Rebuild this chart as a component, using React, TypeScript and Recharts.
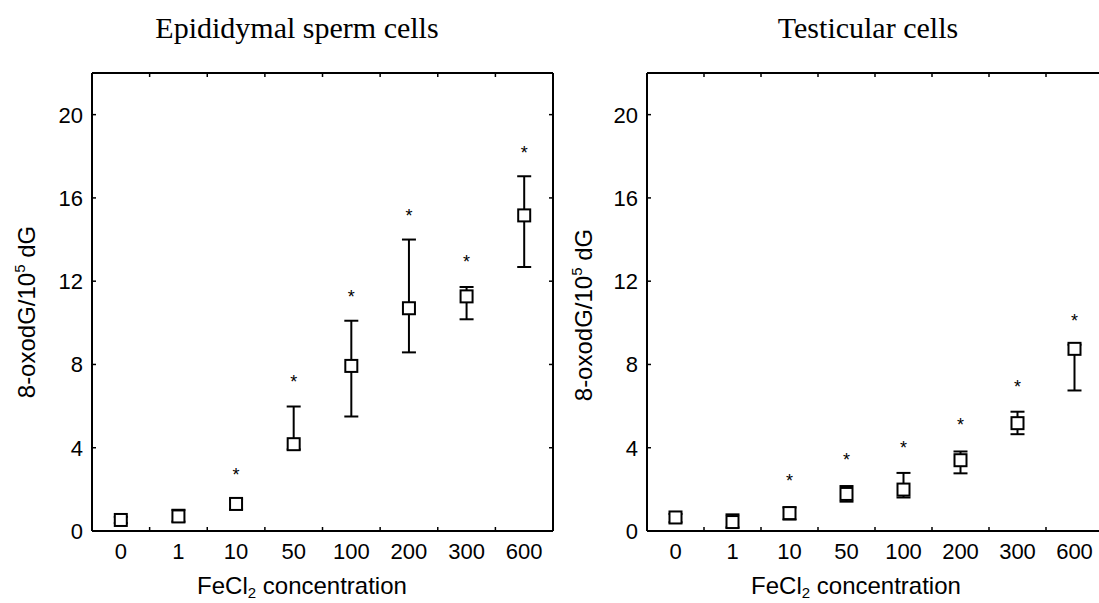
import React from 'react';
import { ComposedChart, Scatter, ErrorBar, XAxis, YAxis } from 'recharts';

const concentrations = ['0', '1', '10', '50', '100', '200', '300', '600'];

// Epididymal sperm cells
const spermMean = [0.53, 0.7, 1.3, 4.17, 7.93, 10.7, 11.27, 15.16];
const spermLow = [0.38, 0.45, 1.04, 3.92, 5.5, 8.58, 10.17, 12.68];
const spermHigh = [0.68, 1.02, 1.52, 5.98, 10.1, 14.0, 11.72, 17.04];
const spermStar = [null, null, 2.86, 7.36, 11.45, 15.3, 13.1, 18.35];

// Testicular cells
const testisMean = [0.65, 0.43, 0.86, 1.78, 1.99, 3.4, 5.18, 8.75];
const testisLow = [0.42, 0.17, 0.55, 1.41, 1.61, 2.77, 4.65, 6.75];
const testisHigh = [0.82, 0.8, 1.13, 2.16, 2.79, 3.82, 5.73, 8.95];
const testisStar = [null, null, 2.6, 3.6, 4.2, 5.28, 7.09, 10.29];

const yTicks = [0, 4, 8, 12, 16, 20];

const SANS = '"Liberation Sans", Arial, sans-serif';
const SERIF = '"Liberation Serif", "Times New Roman", serif';

function buildRows(mean: number[], low: number[], high: number[], star: (number | null)[]) {
  return concentrations.map((c, i) => ({
    conc: c,
    mean: mean[i],
    err: [mean[i] - low[i], high[i] - mean[i]],
    star: star[i],
  }));
}

const Box = (props: any) => {
  const { cx, cy } = props;
  if (!Number.isFinite(cx) || !Number.isFinite(cy)) return <g />;
  return <rect x={cx - 6} y={cy - 6} width={12} height={12} fill="#fff" stroke="#000" strokeWidth={2} />;
};

const Star = (props: any) => {
  const { cx, cy, payload } = props;
  if (payload == null || payload.star == null || !Number.isFinite(cy)) return <g />;
  return (
    <text x={cx} y={cy + 10} textAnchor="middle" fontSize={18} fontFamily={SANS} fill="#000">
      *
    </text>
  );
};

const frame = { stroke: '#000', strokeWidth: 2 };
const TICK_LEN = 4;

// left axis: number label plus a short inward tick
const LeftTick = (props: any) => {
  const { x, y, payload } = props;
  const ax = x + 9;
  return (
    <g>
      <line x1={ax} x2={ax + TICK_LEN} y1={y} y2={y} stroke="#000" strokeWidth={1.5} />
      <text x={x} y={y} dy="0.36em" textAnchor="end" fontSize={22} fontFamily={SANS} fill="#000">
        {payload.value}
      </text>
    </g>
  );
};

const RightTick = (props: any) => {
  const { x, y } = props;
  return <line x1={x - TICK_LEN} x2={x} y1={y} y2={y} stroke="#000" strokeWidth={1.5} />;
};

// bottom axis: category label, inward tick on the boundary left of each band
const makeBottomTick = (half: number) => (props: any) => {
  const { x, y, payload, index } = props;
  const ay = y - 12;
  return (
    <g>
      {index > 0 && <line x1={x - half} x2={x - half} y1={ay} y2={ay - TICK_LEN} stroke="#000" strokeWidth={1.5} />}
      <text x={x} y={y} dy="0.72em" textAnchor="middle" fontSize={22} fontFamily={SANS} fill="#000">
        {payload.value}
      </text>
    </g>
  );
};

const makeTopTick = (half: number) => (props: any) => {
  const { x, y, index } = props;
  if (index === 0) return <g />;
  return <line x1={x - half} x2={x - half} y1={y} y2={y + TICK_LEN} stroke="#000" strokeWidth={1.5} />;
};

function Panel({ rows, left, yWidth, rightMargin, half }: any) {
  const pad = { left: half, right: half };
  return (
    <div style={{ position: 'absolute', left, top: 0 }}>
      <ComposedChart width={560} height={603} data={rows} margin={{ top: 72, right: rightMargin, left: 0, bottom: 0 }}>
        <XAxis dataKey="conc" type="category" height={72} padding={pad} tick={makeBottomTick(half)} tickLine={false}
          tickSize={0} tickMargin={12} axisLine={frame} interval={0} />
        <XAxis xAxisId="tp" dataKey="conc" type="category" orientation="top" height={1} padding={pad}
          tick={makeTopTick(half)} tickLine={false} tickSize={0} tickMargin={0} axisLine={frame} interval={0} />
        <YAxis type="number" domain={[0, 22]} ticks={yTicks} allowDataOverflow width={yWidth} tick={LeftTick}
          tickLine={false} tickSize={0} tickMargin={9} axisLine={frame} interval={0} />
        <YAxis yAxisId="rt" type="number" domain={[0, 22]} ticks={yTicks} allowDataOverflow orientation="right"
          width={1} tick={RightTick} tickLine={false} tickSize={0} tickMargin={0} axisLine={frame} interval={0} />
        <Scatter dataKey="mean" shape={Box} isAnimationActive={false}>
          <ErrorBar dataKey="err" direction="y" width={7} stroke="#000" strokeWidth={2} isAnimationActive={false} />
        </Scatter>
        <Scatter dataKey="star" xAxisId="tp" yAxisId="rt" shape={Star} isAnimationActive={false} />
      </ComposedChart>
    </div>
  );
}

export default function App() {
  const spermRows = buildRows(spermMean, spermLow, spermHigh, spermStar);
  const testisRows = buildRows(testisMean, testisLow, testisHigh, testisStar);

  return (
    <div style={{ position: 'absolute', left: 0, top: 0, width: 1099, height: 603, overflow: 'hidden', background: '#fff' }}>
      <Panel rows={spermRows} left={0} yWidth={92} rightMargin={6} half={28.8} />
      <Panel rows={testisRows} left={560} yWidth={87} rightMargin={16} half={28.5} />

      <svg width={1099} height={603} style={{ position: 'absolute', left: 0, top: 0, pointerEvents: 'none' }}>
        <text x={297} y={38} textAnchor="middle" fontSize={30} fontFamily={SERIF} fill="#000">
          Epididymal sperm cells
        </text>
        <text x={868} y={38} textAnchor="middle" fontSize={30} fontFamily={SERIF} fill="#000">
          Testicular cells
        </text>

        <text x={302} y={594} textAnchor="middle" fontSize={24} fontFamily={SANS} fill="#000">
          FeCl<tspan fontSize={15} dy={4}>2</tspan><tspan dy={-4}> concentration</tspan>
        </text>
        <text x={856} y={594} textAnchor="middle" fontSize={24} fontFamily={SANS} fill="#000">
          FeCl<tspan fontSize={15} dy={4}>2</tspan><tspan dy={-4}> concentration</tspan>
        </text>

        <text transform="translate(35 312) rotate(-90)" textAnchor="middle" fontSize={24} fontFamily={SANS} fill="#000">
          8-oxodG/10<tspan fontSize={15} dy={-10}>5</tspan><tspan dy={10}> dG</tspan>
        </text>
        <text transform="translate(592 315) rotate(-90)" textAnchor="middle" fontSize={24} fontFamily={SANS} fill="#000">
          8-oxodG/10<tspan fontSize={15} dy={-10}>5</tspan><tspan dy={10}> dG</tspan>
        </text>
      </svg>
    </div>
  );
}
